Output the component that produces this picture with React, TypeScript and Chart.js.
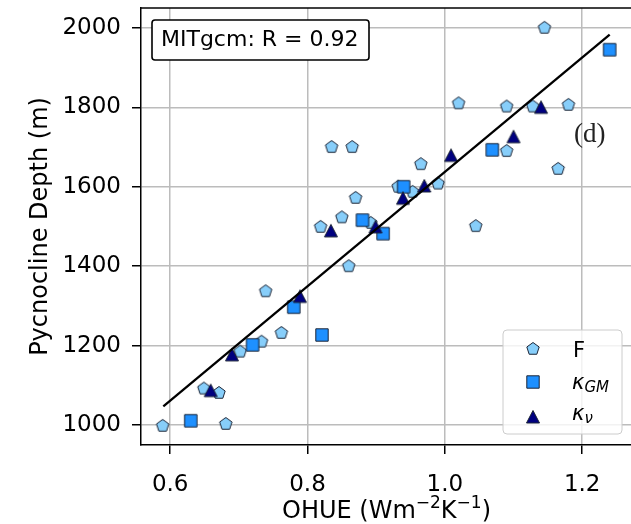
import React, { useEffect, useRef } from 'react';
import { Chart, registerables } from 'chart.js';
Chart.register(...registerables);

const fX = [0.589, 0.649, 0.671, 0.681, 0.702, 0.733, 0.739, 0.762, 0.819, 0.835, 0.850, 0.860, 0.865, 0.870, 0.892, 0.932, 0.953, 0.965, 0.990, 1.020, 1.045, 1.090, 1.090, 1.128, 1.145, 1.165, 1.180];
const fY = [998, 1092, 1081, 1003, 1185, 1210, 1337, 1232, 1499, 1700, 1523, 1400, 1700, 1572, 1509, 1600, 1587, 1657, 1608, 1810, 1501, 1802, 1690, 1802, 2000, 1645, 1806];
const gmX = [0.630, 0.720, 0.780, 0.821, 0.880, 0.910, 0.940, 1.069, 1.240];
const gmY = [1011, 1202, 1297, 1227, 1516, 1482, 1600, 1693, 1945];
const nuX = [0.659, 0.690, 0.789, 0.834, 0.899, 0.939, 0.970, 1.009, 1.100, 1.140];
const nuY = [1087, 1177, 1324, 1489, 1499, 1571, 1602, 1679, 1726, 1800];
const fitX = [0.59, 1.24];
const fitY = [1047, 1983];
const xTicks = [0.6, 0.8, 1.0, 1.2];
const yTicks = [1000, 1200, 1400, 1600, 1800, 2000];
const annotation = 'MITgcm: R = 0.92';
const panelLabel = '(d)';

const FONT = '"DejaVu Sans", sans-serif';
const EDGE = '#1b2436';

function makeMarker(kind: string): HTMLCanvasElement {
  const c = document.createElement('canvas');
  c.width = 18; c.height = 18;
  const g = c.getContext('2d')!;
  const cx = 9, cy = 9;
  g.beginPath();
  if (kind === 'pent') {
    const R = 6.5;
    for (let i = 0; i < 5; i++) {
      const a = -Math.PI / 2 + i * 2 * Math.PI / 5;
      const px = cx + R * Math.cos(a), py = cy + R * Math.sin(a);
      if (i === 0) g.moveTo(px, py); else g.lineTo(px, py);
    }
    g.closePath();
    g.fillStyle = '#87CEFA';
  } else if (kind === 'sq') {
    g.rect(cx - 6.2, cy - 6.2, 12.4, 12.4);
    g.fillStyle = '#1E90FF';
  } else {
    g.moveTo(cx, cy - 6.5);
    g.lineTo(cx + 6.5, cy + 6);
    g.lineTo(cx - 6.5, cy + 6);
    g.closePath();
    g.fillStyle = '#00007F';
  }
  g.fill();
  g.lineWidth = 1;
  g.strokeStyle = EDGE;
  g.stroke();
  return c;
}

function zip(xs: number[], ys: number[]) {
  return xs.map((x, i) => ({ x, y: ys[i] }));
}

type Seg = { t: string; size: number; dy: number; style?: string };
function drawSegs(ctx: CanvasRenderingContext2D, segs: Seg[], x: number, y: number, align: 'left' | 'center') {
  ctx.save();
  ctx.textBaseline = 'alphabetic';
  ctx.textAlign = 'left';
  let total = 0;
  for (const s of segs) {
    ctx.font = `${s.style || ''} ${s.size}px ${FONT}`;
    total += ctx.measureText(s.t).width;
  }
  let cx = align === 'center' ? x - total / 2 : x;
  for (const s of segs) {
    ctx.font = `${s.style || ''} ${s.size}px ${FONT}`;
    ctx.fillText(s.t, cx, y + s.dy);
    cx += ctx.measureText(s.t).width;
  }
  ctx.restore();
}

function zeroPad(s: any) {
  s.paddingTop = 0; s.paddingBottom = 0; s.paddingLeft = 0; s.paddingRight = 0;
}

export default function App() {
  const ref = useRef<HTMLCanvasElement>(null);
  useEffect(() => {
    const pent = makeMarker('pent');
    const sq = makeMarker('sq');
    const tri = makeMarker('tri');

    const deco = {
      id: 'deco',
      afterDraw(chart: any) {
        const ctx: CanvasRenderingContext2D = chart.ctx;
        const a = chart.chartArea;
        ctx.save();
        ctx.strokeStyle = '#000';
        ctx.lineWidth = 1.5;
        ctx.beginPath();
        ctx.moveTo(a.left, a.top);
        ctx.lineTo(a.right, a.top);
        ctx.stroke();

        // annotation box
        ctx.fillStyle = '#fff';
        ctx.beginPath();
        (ctx as any).roundRect(152, 20, 217, 40, 3);
        ctx.fill();
        ctx.lineWidth = 1.6;
        ctx.strokeStyle = '#000';
        ctx.stroke();
        ctx.fillStyle = '#000';
        ctx.font = `22px ${FONT}`;
        ctx.textBaseline = 'alphabetic';
        ctx.textAlign = 'left';
        ctx.fillText(annotation, 161, 46);

        // panel label
        ctx.fillStyle = '#222';
        ctx.font = `27px "Liberation Serif", serif`;
        ctx.fillText(panelLabel, 574, 142);

        // legend
        ctx.beginPath();
        (ctx as any).roundRect(503, 330, 119, 104, 4);
        ctx.fillStyle = 'rgba(255,255,255,0.8)';
        ctx.fill();
        ctx.strokeStyle = '#cccccc';
        ctx.lineWidth = 1;
        ctx.stroke();
        ctx.drawImage(pent, 533 - 9, 349 - 9);
        ctx.drawImage(sq, 533 - 9, 382 - 9);
        ctx.drawImage(tri, 533 - 9, 417 - 9);
        ctx.fillStyle = '#000';
        drawSegs(ctx, [{ t: 'F', size: 21, dy: 0 }], 573, 357, 'left');
        drawSegs(ctx, [{ t: 'κ', size: 21, dy: 0, style: 'italic' }, { t: 'GM', size: 15, dy: 3, style: 'italic' }], 572, 389, 'left');
        drawSegs(ctx, [{ t: 'κ', size: 21, dy: 0, style: 'italic' }, { t: 'ν', size: 15, dy: 3, style: 'italic' }], 572, 420, 'left');

        // axis titles
        ctx.fillStyle = '#000';
        drawSegs(ctx, [
          { t: 'OHUE (Wm', size: 24, dy: 0 },
          { t: '−2', size: 17, dy: -10 },
          { t: 'K', size: 24, dy: 0 },
          { t: '−1', size: 17, dy: -10 },
          { t: ')', size: 24, dy: 0 },
        ], (a.left + a.right) / 2, 518, 'center');
        ctx.translate(47, (a.top + a.bottom) / 2);
        ctx.rotate(-Math.PI / 2);
        ctx.font = `24px ${FONT}`;
        ctx.textAlign = 'center';
        ctx.fillText('Pycnocline Depth (m)', 0, 0);
        ctx.restore();
      },
    };

    const chart = new Chart(ref.current!, {
      type: 'scatter',
      data: {
        datasets: [
          {
            type: 'line' as any,
            label: 'fit',
            data: zip(fitX, fitY),
            borderColor: '#000',
            borderWidth: 2.3,
            pointRadius: 0,
            showLine: true,
            fill: false,
            order: 0,
          },
          { label: 'κν', data: zip(nuX, nuY), pointStyle: tri as any, order: 1 },
          { label: 'κGM', data: zip(gmX, gmY), pointStyle: sq as any, order: 2 },
          { label: 'F', data: zip(fX, fY), pointStyle: pent as any, order: 3 },
        ] as any,
      },
      options: {
        responsive: false,
        animation: false,
        devicePixelRatio: 1,
        layout: { padding: { left: 0, right: 8, top: 8, bottom: 0 } },
        plugins: { legend: { display: false }, tooltip: { enabled: false }, title: { display: false } },
        scales: {
          x: {
            type: 'linear',
            min: 0.5575,
            max: 1.2725,
            afterFit: (s: any) => { s.height = 79; zeroPad(s); },
            afterBuildTicks: (s: any) => { s.ticks = xTicks.map((v) => ({ value: v })); },
            ticks: {
              font: { family: FONT, size: 23 },
              color: '#000',
              padding: 17,
              maxRotation: 0,
              callback: (v: any) => Number(v).toFixed(1),
            },
            grid: { color: '#bcbcbc', lineWidth: 1.5, tickColor: '#000', tickLength: 9, tickWidth: 1.5 },
            border: { display: true, color: '#000', width: 1.5 },
          },
          y: {
            type: 'linear',
            min: 950,
            max: 2050,
            afterFit: (s: any) => { s.width = 141; zeroPad(s); },
            afterBuildTicks: (s: any) => { s.ticks = yTicks.map((v) => ({ value: v })); },
            ticks: {
              font: { family: FONT, size: 23 },
              color: '#000',
              padding: 11,
              callback: (v: any) => String(v),
            },
            grid: { color: '#bcbcbc', lineWidth: 1.5, tickColor: '#000', tickLength: 9, tickWidth: 1.5 },
            border: { display: true, color: '#000', width: 1.5 },
          },
        },
      },
      plugins: [deco],
    } as any);
    return () => chart.destroy();
  }, []);

  return (
    <div style={{ position: 'fixed', left: 0, top: 0, width: 631, height: 524, overflow: 'hidden', background: '#fff' }}>
      <canvas ref={ref} width={640} height={524} style={{ display: 'block' }} />
    </div>
  );
}
